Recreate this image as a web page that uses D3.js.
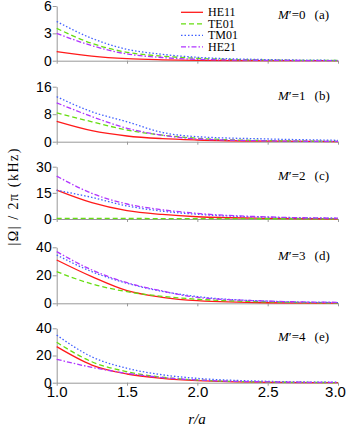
<!DOCTYPE html>
<html lang="en">
<head>
<meta charset="UTF-8">
<title>Omega vs r/a</title>
<script src="https://d3js.org/d3.v7.min.js"></script>
<style>
  body { margin: 0; background: #fff; }
  svg { display: block; }
  .tick text { font-family: "Liberation Sans", Arial, sans-serif; fill: #000; }
  .axis path, .axis line { stroke: #999; }
  .serif { font-family: "Liberation Serif", "Times New Roman", serif; fill: #000; }
</style>
</head>
<body>
<svg></svg>
<script>
// sample points along r/a
const xValues = [1.0, 1.25, 1.5, 1.75, 2.0, 2.5, 3.0];

const seriesNames = ["HE11", "TE01", "TM01", "HE21"];
const panelM = ["0", "1", "2", "3", "4"];
const panelLetters = ["a", "b", "c", "d", "e"];
const yMax = [6, 16, 30, 40, 40];
const yTickValues = [[0, 3, 6], [0, 8, 16], [0, 15, 30], [0, 20, 40], [0, 20, 40]];
const xTickValues = [1.0, 1.5, 2.0, 2.5, 3.0];

// one row per panel (a..e)
const he11Values = [
  [1.0, 0.5, 0.22, 0.1, 0.04, 0.01, 0.0],
  [5.9, 3.2, 1.66, 0.9, 0.5, 0.15, 0.05],
  [16.6, 9.4, 4.8, 2.6, 1.3, 0.4, 0.1],
  [30.9, 19, 9, 4.3, 1.9, 0.4, 0.1],
  [26.5, 13, 6.4, 3.2, 1.5, 0.3, 0.05]
];
const te01Values = [
  [3.55, 1.9, 0.92, 0.5, 0.26, 0.07, 0.02],
  [8.4, 5.8, 3.4, 1.9, 1.0, 0.3, 0.1],
  [0.4, 0.35, 0.3, 0.25, 0.2, 0.15, 0.1],
  [22.6, 13.8, 8.3, 5, 2.9, 1.0, 0.3],
  [29.7, 15.4, 8.1, 4, 2, 0.5, 0.1]
];
const tm01Values = [
  [4.3, 2.45, 1.25, 0.7, 0.37, 0.12, 0.04],
  [13.1, 8.7, 5.8, 2.7, 1.45, 0.8, 0.4],
  [16.5, 12.4, 7.5, 4.5, 2.7, 1.0, 0.4],
  [34.5, 22.6, 14.3, 8.5, 4.8, 1.5, 0.5],
  [35, 19, 10.6, 5.8, 3.2, 1.0, 0.3]
];
const he21Values = [
  [3.0, 1.65, 0.74, 0.35, 0.15, 0.04, 0.01],
  [11.3, 7.3, 3.9, 1.9, 0.8, 0.25, 0.08],
  [24.6, 14.7, 8.6, 5.3, 3.2, 1.2, 0.5],
  [36.9, 23.8, 14.7, 8.8, 4.2, 1.6, 0.7],
  [17.2, 11.3, 6.9, 3.8, 2, 0.6, 0.2]
];

const seriesData = [he11Values, te01Values, tm01Values, he21Values];
const colors = ["#ff1a1a", "#66dd11", "#4060ff", "#b035ff"];
const dashes = [null, "5,3", "1.5,2", "5,2,1.5,2"];

const width = 346, height = 429;
const svg = d3.select("svg").attr("width", width).attr("height", height);

// panel layout (top, bottom in px)
const panelTop = [6, 86.7, 166.7, 247.3, 328.3];
const panelBottom = [60.7, 141.7, 219, 303.3, 382.7];

const x = d3.scaleLinear().domain([1, 3]).range([56.7, 338]);

panelM.forEach((m, i) => {
  const y = d3.scaleLinear().domain([0, yMax[i]]).range([panelBottom[i], panelTop[i]]);
  const g = svg.append("g");

  // x axis (labels only on bottom panel)
  const xAxis = d3.axisBottom(x).tickValues(xTickValues).tickSize(3).tickSizeOuter(0)
    .tickPadding(1)
    .tickFormat(i === 4 ? d3.format(".1f") : "");
  g.append("g").attr("class", "axis")
    .attr("transform", `translate(0,${panelBottom[i]})`)
    .call(xAxis)
    .call(a => a.selectAll(".tick text").attr("font-size", 15))
    .call(a => a.selectAll(".tick:last-of-type text").attr("dx", -3));

  // y axis
  g.append("g").attr("class", "axis")
    .attr("transform", `translate(${x(1)},0)`)
    .call(d3.axisLeft(y).tickValues(yTickValues[i]).tickFormat(d3.format("d"))
      .tickSize(4).tickSizeOuter(0).tickPadding(1))
    .call(a => a.selectAll(".tick text").attr("font-size", 14));

  const line = d3.line()
    .x((d, k) => x(xValues[k]))
    .y(d => y(d))
    .curve(d3.curveMonotoneX);

  seriesData.forEach((s, j) => {
    g.append("path")
      .datum(s[i])
      .attr("fill", "none")
      .attr("stroke", colors[j])
      .attr("stroke-width", 1.3)
      .attr("stroke-dasharray", dashes[j])
      .attr("d", line);
  });

  // panel label
  const lbl = g.append("text").attr("class", "serif")
    .attr("x", 278).attr("y", panelTop[i] + 13)
    .attr("font-size", 13);
  lbl.append("tspan").attr("font-style", "italic").text("M");
  lbl.append("tspan").text("′=" + m + "\u2002\u2009(" + panelLetters[i] + ")");
});

// legend
const legend = svg.append("g");
seriesNames.forEach((name, j) => {
  const ly = 12.3 + j * 11.5;
  legend.append("line")
    .attr("x1", 181).attr("x2", 203).attr("y1", ly).attr("y2", ly)
    .attr("stroke", colors[j]).attr("stroke-width", 1.3)
    .attr("stroke-dasharray", dashes[j]);
  legend.append("text").attr("class", "serif")
    .attr("x", 208).attr("y", ly + 4)
    .attr("font-size", 12)
    .text(name);
});

// axis titles
svg.append("text").attr("class", "serif")
  .attr("transform", "translate(18,197) rotate(-90)")
  .attr("text-anchor", "middle")
  .attr("font-size", 14)
  .attr("textLength", 97)
  .attr("lengthAdjust", "spacing")
  .text("|\u03A9| / 2\u03C0 (kHz)");

svg.append("text").attr("class", "serif")
  .attr("x", 197).attr("y", 424)
  .attr("text-anchor", "middle")
  .attr("font-size", 15)
  .attr("font-style", "italic")
  .text("r/a");
</script>
</body>
</html>
